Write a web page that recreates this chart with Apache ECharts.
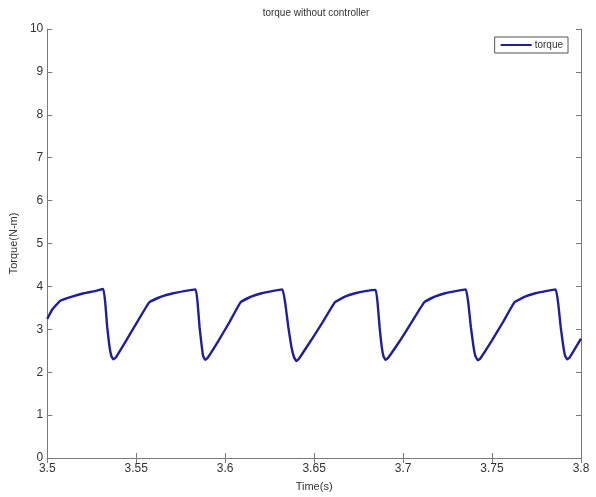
<!DOCTYPE html>
<html>
<head>
<meta charset="utf-8">
<script src="https://cdn.jsdelivr.net/npm/echarts@6/dist/echarts.min.js"></script>
<style>
  html, body { margin: 0; padding: 0; background: #fff; }
  #chart { width: 596px; height: 497px; }
</style>
</head>
<body>
<div id="chart"></div>
<script>
// time (s) and torque (N-m)
const timeS = [
  3.5000, 3.5028, 3.5072, 3.5139, 3.5206, 3.5268, 3.5315, 3.5326, 3.5337, 3.5349, 3.5360, 3.5371,
  3.5385, 3.5441, 3.5507, 3.5574, 3.5641, 3.5708, 3.5770, 3.5834, 3.5845, 3.5856, 3.5868, 3.5876, 3.5887,
  3.5901, 3.5962, 3.6026, 3.6087, 3.6146, 3.6205, 3.6263, 3.6322, 3.6338, 3.6355, 3.6372, 3.6386, 3.6400,
  3.6414, 3.6484, 3.6550, 3.6617, 3.6673, 3.6731, 3.6787, 3.6846, 3.6857, 3.6868, 3.6879, 3.6890, 3.6901,
  3.6915, 3.6985, 3.7052, 3.7119, 3.7178, 3.7236, 3.7295, 3.7353, 3.7367, 3.7381, 3.7395, 3.7406, 3.7420,
  3.7434, 3.7498, 3.7562, 3.7626, 3.7685, 3.7744, 3.7802, 3.7858, 3.7872, 3.7886, 3.7900, 3.7911, 3.7922,
  3.7936, 3.8000
];
const torque = [
  3.24, 3.46, 3.66, 3.76, 3.84, 3.89, 3.94, 3.62, 3.05, 2.62, 2.38, 2.30,
  2.34, 2.72, 3.18, 3.63, 3.76, 3.84, 3.89, 3.93, 3.62, 3.05, 2.62, 2.38, 2.29,
  2.33, 2.73, 3.18, 3.63, 3.76, 3.84, 3.89, 3.93, 3.60, 3.05, 2.60, 2.36, 2.26,
  2.31, 2.75, 3.18, 3.63, 3.76, 3.84, 3.89, 3.92, 3.60, 3.05, 2.62, 2.37, 2.29,
  2.33, 2.75, 3.19, 3.63, 3.76, 3.84, 3.89, 3.93, 3.60, 3.05, 2.62, 2.38, 2.28,
  2.32, 2.73, 3.17, 3.63, 3.76, 3.84, 3.89, 3.93, 3.60, 3.05, 2.62, 2.38, 2.30,
  2.34, 2.78
];
const xTicks = ['3.5', '3.55', '3.6', '3.65', '3.7', '3.75', '3.8'];
const yTicks = ['0', '1', '2', '3', '4', '5', '6', '7', '8', '9', '10'];

const font = '"Liberation Sans Narrow", "Liberation Sans", Arial, sans-serif';
const axisGray = '#7a7a7a';
const textCol = '#333';

const seriesData = timeS.map((t, i) => [t, torque[i]]);

const chart = echarts.init(document.getElementById('chart'));

const boxAxis = {
  axisLine: { show: true, lineStyle: { color: axisGray, width: 1 } },
  axisTick: { show: true, inside: true, length: 5, lineStyle: { color: axisGray } },
  splitLine: { show: false }
};

chart.setOption({
  animation: false,
  backgroundColor: '#fff',
  title: {
    text: 'torque without controller',
    left: 311,
    textAlign: 'center',
    top: 3,
    textStyle: { fontFamily: font, fontSize: 10, fontWeight: 'normal', color: textCol }
  },
  legend: {
    data: ['torque'],
    right: 28,
    top: 37,
    itemWidth: 31,
    itemHeight: 2,
    itemGap: 4,
    padding: [3, 5, 3, 6],
    borderColor: '#555',
    borderWidth: 1,
    borderRadius: 0,
    icon: 'rect',
    textStyle: { fontFamily: font, fontSize: 10, color: textCol, padding: [0, 0, 0, -2] }
  },
  grid: { left: 41, right: 15, top: 29, bottom: 36 },
  xAxis: [
    Object.assign({}, boxAxis, {
      type: 'value',
      min: 3.5,
      max: 3.8,
      interval: 0.05,
      name: 'Time(s)',
      nameLocation: 'middle',
      nameGap: 23,
      nameTextStyle: { fontFamily: font, fontSize: 11, color: textCol },
      axisLabel: {
        fontFamily: font, fontSize: 12, color: textCol, margin: 5,
        formatter: (v) => xTicks[Math.round((v - 3.5) / 0.05)]
      }
    }),
    Object.assign({}, boxAxis, {
      type: 'value', position: 'top', min: 3.5, max: 3.8, interval: 0.05,
      axisLabel: { show: false }
    })
  ],
  yAxis: [
    Object.assign({}, boxAxis, {
      type: 'value',
      min: 0,
      max: 10,
      interval: 1,
      name: 'Torque(N-m)',
      nameLocation: 'middle',
      nameGap: 20,
      nameTextStyle: { fontFamily: font, fontSize: 11, color: textCol },
      axisLabel: {
        fontFamily: font, fontSize: 12, color: textCol, margin: 4,
        formatter: (v) => yTicks[Math.round(v)]
      }
    }),
    Object.assign({}, boxAxis, {
      type: 'value', position: 'right', min: 0, max: 10, interval: 1,
      axisLabel: { show: false }
    })
  ],
  series: [
    {
      name: 'torque',
      type: 'line',
      data: seriesData,
      showSymbol: false,
      smooth: 0.1,
      lineStyle: { color: '#1f1f9e', width: 2.4 },
      itemStyle: { color: '#1f1f9e' }
    }
  ]
});
</script>
</body>
</html>
